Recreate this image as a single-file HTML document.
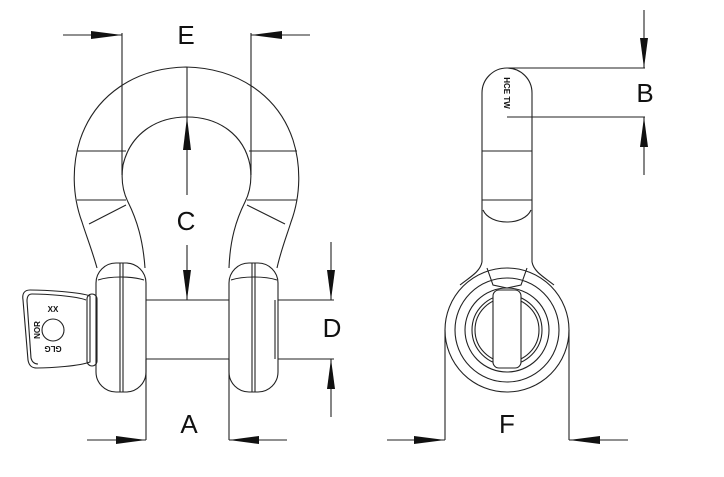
<!DOCTYPE html>
<html><head><meta charset="utf-8"><style>
html,body{margin:0;padding:0;background:#fff;width:724px;height:477px;overflow:hidden}
svg{display:block}
text{font-family:"Liberation Sans",sans-serif;fill:#111}
</style></head><body>
<svg width="724" height="477" viewBox="0 0 724 477" xmlns="http://www.w3.org/2000/svg">
<g fill="none" stroke="#222" stroke-width="1.1">
<path d="M97,268 C92,250 86,235 82,222 C72,195 72,165 80,140 C95,95 135,68 186,67 C237,68 278,95 293,140 C301,165 301,195 291,222 C287,235 281,250 277,268"/>
<path d="M145,268 C143,240 137,220 128,202 C122,190 121,178 123,165 C130,135 155,117 187,117 C219,117 244,135 250,165 C252,178 251,190 245,202 C236,220 230,240 229,268"/>
<line x1="77" y1="151" x2="126" y2="151"/><line x1="249" y1="151" x2="297" y2="151"/>
<line x1="77" y1="200" x2="126" y2="200"/><line x1="247" y1="200" x2="297" y2="200"/>
<line x1="126" y1="205" x2="89" y2="224"/><line x1="247" y1="205" x2="285" y2="224"/>
<rect x="96" y="263" width="50" height="129" rx="20"/>
<line x1="120" y1="263" x2="120" y2="392"/><line x1="123" y1="263" x2="123" y2="392"/>
<path d="M98,280 C110,276 132,276 144,280"/>
<rect x="229" y="263" width="49" height="129" rx="20"/>
<line x1="252" y1="263" x2="252" y2="392"/><line x1="255" y1="263" x2="255" y2="392"/>
<path d="M231,280 C243,276 265,276 277,280"/>
<line x1="275" y1="300" x2="275" y2="359"/>
<line x1="146" y1="300" x2="229" y2="300"/><line x1="146" y1="359" x2="229" y2="359"/>
<path d="M90,296 C80,292 45,290 30,290 C24,290 22,294 23,300 L28,360 C29,366 32,368 37,368 C50,368 80,366 90,362 Z"/>
<path d="M86,300 C76,296 46,294 32,294 C28,294 27,297 27,301 L31,358 C32,362 34,364 38,364"/>
<rect x="87" y="294" width="10" height="72" rx="5"/>
<circle cx="53" cy="330" r="11"/>
<line x1="122" y1="33" x2="122" y2="175"/><line x1="251" y1="33" x2="251" y2="175"/>
<line x1="63" y1="35" x2="122" y2="35"/><line x1="251" y1="35" x2="310" y2="35"/>
<line x1="187" y1="67" x2="187" y2="195"/><line x1="187" y1="245" x2="187" y2="300"/>
<line x1="278" y1="300" x2="334" y2="300"/><line x1="278" y1="359" x2="334" y2="359"/>
<line x1="331" y1="242" x2="331" y2="300"/><line x1="331" y1="359" x2="331" y2="417"/>
<line x1="146" y1="359" x2="146" y2="440"/><line x1="229" y1="359" x2="229" y2="440"/>
<line x1="87" y1="440" x2="146" y2="440"/><line x1="229" y1="440" x2="287" y2="440"/>
<path d="M482,262 L482,93 A25,25 0 0 1 532,93 L532,262"/>
<line x1="482" y1="151" x2="532" y2="151"/><line x1="482" y1="200" x2="532" y2="200"/>
<path d="M483,210 C490,226 524,226 531,210"/>
<path d="M482,262 C480,272 470,277 460,285"/><path d="M532,262 C534,272 544,277 554,285"/>
<path d="M487,268 L493,285 L507,288 L521,285 L527,268"/>
<circle cx="507" cy="330" r="62"/><circle cx="507" cy="330" r="52"/>
<circle cx="507" cy="330" r="42"/><circle cx="507" cy="330" r="35"/><circle cx="507" cy="330" r="32"/>
<rect x="493" y="290" width="28" height="78" rx="6" fill="#fff"/>
<line x1="507" y1="68" x2="645" y2="68"/><line x1="507" y1="117" x2="645" y2="117"/>
<line x1="644" y1="10" x2="644" y2="68"/><line x1="644" y1="117" x2="644" y2="175"/>
<line x1="445" y1="330" x2="445" y2="440"/><line x1="569" y1="330" x2="569" y2="440"/>
<line x1="387" y1="440" x2="445" y2="440"/><line x1="569" y1="440" x2="628" y2="440"/>
</g>
<g fill="#111">
<path d="M122,35 L91,31 L91,39 Z"/><path d="M251,35 L282,31 L282,39 Z"/>
<path d="M187,117 L183,150 L191,150 Z"/><path d="M187,300 L183,270 L191,270 Z"/>
<path d="M331,300 L327,270 L335,270 Z"/><path d="M331,359 L327,389 L335,389 Z"/>
<path d="M146,440 L116,436 L116,444 Z"/><path d="M229,440 L259,436 L259,444 Z"/>
<path d="M644,68 L640,38 L648,38 Z"/><path d="M644,117 L640,147 L648,147 Z"/>
<path d="M445,440 L414,436 L414,444 Z"/><path d="M569,440 L600,436 L600,444 Z"/>
</g>
<g font-size="26" text-anchor="middle">
<text x="186" y="44">E</text>
<text x="186" y="230">C</text>
<text x="332" y="337">D</text>
<text x="189" y="433">A</text>
<text x="645" y="102">B</text>
<text x="507" y="433">F</text>
</g>
<g font-size="8" font-weight="bold" text-anchor="middle">
<text x="53" y="312">XX</text>
<text x="53" y="352" transform="rotate(180 53 349)">GLG</text>
<text x="37" y="333" transform="rotate(-90 37 330)">NOR</text>
<text x="507" y="96" transform="rotate(90 507 93)">HCE TW</text>
</g>
</svg>
</body></html>
